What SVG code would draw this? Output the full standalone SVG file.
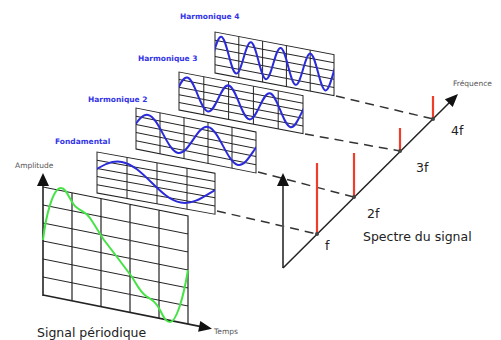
<svg xmlns="http://www.w3.org/2000/svg" width="501" height="340" viewBox="0 0 501 340">
<style>
.grid{fill:none;stroke:#222;stroke-width:1}
.mgrid{fill:none;stroke:#222;stroke-width:1.2}
.wave{fill:none;stroke:#2b2bd9;stroke-width:2;vector-effect:non-scaling-stroke}
.lbl{font-family:"DejaVu Sans",Verdana,sans-serif;font-weight:bold;font-size:7.5px;fill:#3535e8}
.small{font-family:"DejaVu Sans",Verdana,sans-serif;font-size:7.5px;fill:#555}
.big{font-family:"DejaVu Sans",Verdana,sans-serif;font-size:12.5px;fill:#222}
.dash{fill:none;stroke:#333;stroke-width:1.5;stroke-dasharray:9 6}
.red{stroke:#ee3d2a;stroke-width:2.2}
</style>
<defs>
<path id="sine" class="wave" d="M-4,0 c0.3261,-0.5123 0.6381,-1 1,-1 c0.3619,0 0.6739,0.4877 1,1 c0.3261,0.5123 0.6381,1 1,1 c0.3619,0 0.6739,-0.4877 1,-1 c0.3261,-0.5123 0.6381,-1 1,-1 c0.3619,0 0.6739,0.4877 1,1 c0.3261,0.5123 0.6381,1 1,1 c0.3619,0 0.6739,-0.4877 1,-1 c0.3261,-0.5123 0.6381,-1 1,-1 c0.3619,0 0.6739,0.4877 1,1 c0.3261,0.5123 0.6381,1 1,1 c0.3619,0 0.6739,-0.4877 1,-1 c0.3261,-0.5123 0.6381,-1 1,-1 c0.3619,0 0.6739,0.4877 1,1 c0.3261,0.5123 0.6381,1 1,1 c0.3619,0 0.6739,-0.4877 1,-1 c0.3261,-0.5123 0.6381,-1 1,-1 c0.3619,0 0.6739,0.4877 1,1 c0.3261,0.5123 0.6381,1 1,1 c0.3619,0 0.6739,-0.4877 1,-1 c0.3261,-0.5123 0.6381,-1 1,-1 c0.3619,0 0.6739,0.4877 1,1 c0.3261,0.5123 0.6381,1 1,1 c0.3619,0 0.6739,-0.4877 1,-1"/>
<clipPath id="cF"><rect x="0" y="-3" width="118" height="47"/></clipPath>
<clipPath id="c2"><rect x="0" y="-3" width="120" height="47"/></clipPath>
<clipPath id="c3"><rect x="0" y="-3" width="124" height="44"/></clipPath>
<clipPath id="c4"><rect x="0" y="-3" width="119" height="47"/></clipPath>
</defs>

<g id="connectors">
<line class="dash" x1="217" y1="211" x2="317" y2="234"/>
<line class="dash" x1="258" y1="172" x2="354" y2="197"/>
<line class="dash" x1="305" y1="134" x2="400" y2="151"/>
<line class="dash" x1="336" y1="96" x2="433" y2="119"/>
</g>

<g id="harmonique4">
<g transform="matrix(1 0.19 0 1 215 32)">
<rect class="grid" x="0" y="0" width="119" height="41"/>
<path class="grid" d="M23.8,0V41M47.6,0V41M71.4,0V41M95.2,0V41M0,8.2H119M0,16.4H119M0,24.6H119M0,32.8H119"/>
<g clip-path="url(#c4)"><use href="#sine" transform="translate(0 20.5) scale(7.4375 17) translate(-0.16 0)"/></g>
</g>
<text class="lbl" x="180" y="19">Harmonique 4</text>
</g>

<g id="harmonique3">
<g transform="matrix(1 0.19 0 1 179 72)">
<rect class="grid" x="0" y="0" width="124" height="38"/>
<path class="grid" d="M24.8,0V38M49.6,0V38M74.4,0V38M99.2,0V38M0,7.6H124M0,15.2H124M0,22.8H124M0,30.4H124"/>
<g clip-path="url(#c3)"><use href="#sine" transform="translate(0 19) scale(10.333 15) translate(-0.2 0)"/></g>
</g>
<text class="lbl" x="138" y="61">Harmonique 3</text>
</g>

<g id="harmonique2">
<g transform="matrix(1 0.2 0 1 136 108)">
<rect class="grid" x="0" y="0" width="120" height="41"/>
<path class="grid" d="M24,0V41M48,0V41M72,0V41M96,0V41M0,8.2H120M0,16.4H120M0,24.6H120M0,32.8H120"/>
<g clip-path="url(#c2)"><use href="#sine" transform="translate(0 20.5) scale(15 16) translate(-0.2 0)"/></g>
</g>
<text class="lbl" x="88" y="102">Harmonique 2</text>
</g>

<g id="fondamental">
<g transform="matrix(1 0.18 0 1 97 152)">
<rect class="grid" x="0" y="0" width="118" height="41"/>
<path class="grid" d="M30,0V41M60,0V41M90,0V41M0,8.2H118M0,16.4H118M0,24.6H118M0,32.8H118"/>
<g clip-path="url(#cF)"><use href="#sine" transform="translate(0 20.5) scale(29.5 15) translate(-0.16 0)"/></g>
</g>
<text class="lbl" x="55" y="144">Fondamental</text>
</g>

<g id="signal">
<g transform="matrix(1 0.2 0 1 43 187)">
<path class="mgrid" d="M0,0H145V108M29,0V108M58,0V108M87,0V108M116,0V108M0,18H145M0,36H145M0,54H145M0,72H145M0,90H145"/>
</g>
<line x1="43" y1="296" x2="43" y2="185" stroke="#222" stroke-width="1.6"/>
<polygon points="43,173 37,186 49,186" fill="#111"/>
<line x1="43" y1="295" x2="201" y2="326.6" stroke="#222" stroke-width="1.6"/>
<polygon points="212,328.8 198.1,331.7 200.3,320.9" fill="#111"/>
<path d="M43,240 C46,215 53,188 61,188 C67,188 70,202 76,207 C82,212 86,212 90,218 C96,227 100,234 104,240 L117,257 L132,277 C137,285 140,292 146,296 C152,300 156,302 160,310 C164,318 166,322 170,322 C176,322 183,300 188,270" fill="none" stroke="#44e444" stroke-width="2"/>
<text class="small" x="15" y="168">Amplitude</text>
<text class="small" x="214" y="334">Temps</text>
<text class="big" x="37" y="337">Signal périodique</text>
</g>

<g id="spectre">
<line x1="283" y1="268" x2="283" y2="185" stroke="#555" stroke-width="2"/>
<polygon points="283,173 277,186 289,186" fill="#111"/>
<line x1="283" y1="268" x2="450" y2="102" stroke="#222" stroke-width="1.5"/>
<polygon points="458,94 452.7,107.1 444.9,99.3" fill="#111"/>
<line class="red" x1="317" y1="163" x2="317" y2="234"/>
<line class="red" x1="354" y1="153" x2="354" y2="197"/>
<line class="red" x1="400" y1="128" x2="400" y2="151"/>
<line class="red" x1="433" y1="96" x2="433" y2="119"/>
<circle cx="317" cy="234" r="2" fill="#444"/>
<circle cx="354" cy="197" r="2" fill="#444"/>
<circle cx="400" cy="151" r="2" fill="#444"/>
<circle cx="433" cy="119" r="2" fill="#444"/>
<text class="big" x="325" y="250">f</text>
<text class="big" x="367" y="218">2f</text>
<text class="big" x="416" y="172">3f</text>
<text class="big" x="451" y="135">4f</text>
<text class="big" x="363" y="241">Spectre du signal</text>
<text class="small" x="453" y="86">Fréquence</text>
</g>
</svg>
